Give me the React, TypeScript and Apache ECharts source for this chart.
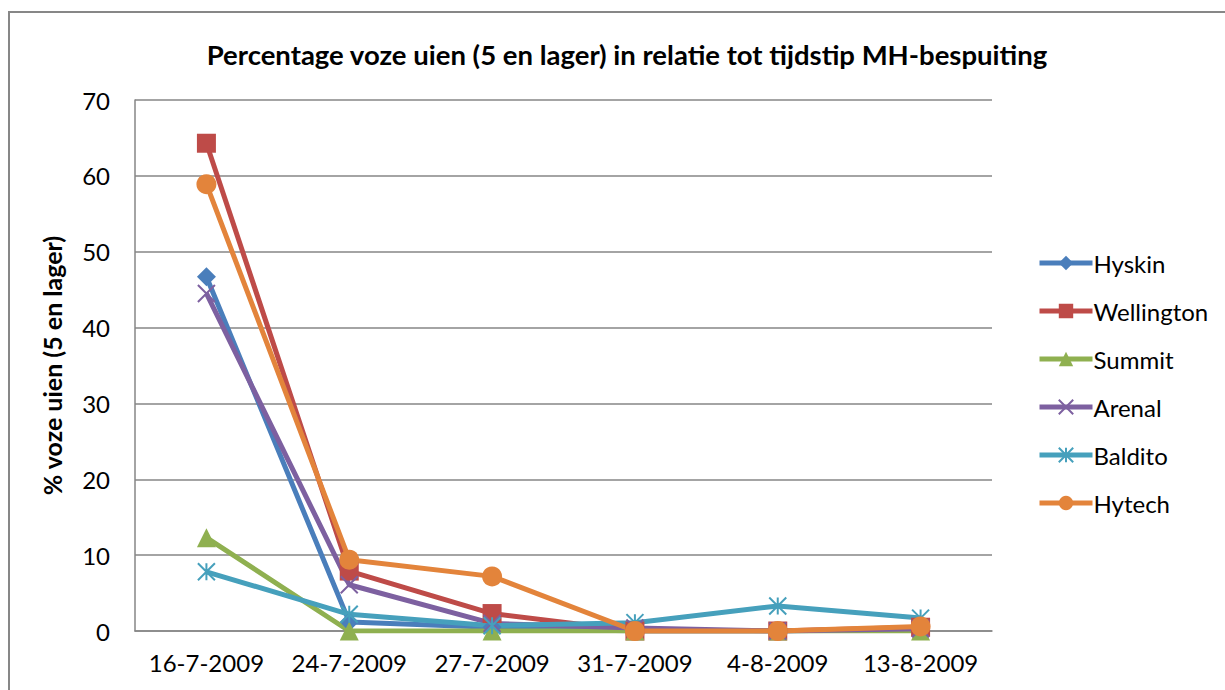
import React, { useEffect, useRef } from "react";
import * as echarts from "echarts";

const categories = ["16-7-2009", "24-7-2009", "27-7-2009", "31-7-2009", "4-8-2009", "13-8-2009"];
const hyskin = [46.7, 1.2, 0.5, 0, 0, 0.2];
const wellington = [64.3, 7.9, 2.3, 0, 0, 0.5];
const summit = [12.3, 0, 0, 0, 0, 0];
const arenal = [44.5, 6.1, 1.0, 0.4, 0, 0.3];
const baldito = [7.8, 2.2, 0.7, 1.1, 3.3, 1.7];
const hytech = [58.9, 9.4, 7.2, 0, 0, 0.6];

const FONT = "Lato, 'Open Sans', sans-serif";

const seriesDefs = [
  { name: "Hyskin", data: hyskin, color: "#4A7EBB", symbol: "diamond", size: 19, stroke: false },
  { name: "Wellington", data: wellington, color: "#BE4B48", symbol: "rect", size: 19, stroke: false },
  { name: "Summit", data: summit, color: "#8FB050", symbol: "triangle", size: 19, stroke: false },
  { name: "Arenal", data: arenal, color: "#7D60A0", symbol: "path://M0,0L10,10M10,0L0,10", size: 17, stroke: true },
  { name: "Baldito", data: baldito, color: "#46A0BC", symbol: "path://M5,0L5,10M0,0L10,10M10,0L0,10", size: 17, stroke: true },
  { name: "Hytech", data: hytech, color: "#E3843B", symbol: "circle", size: 20, stroke: false },
];

export default function App() {
  const ref = useRef<HTMLDivElement>(null);
  useEffect(() => {
    if (!ref.current) return;
    const chart = echarts.init(ref.current, undefined, { renderer: "svg" });
    chart.setOption({
      animation: false,
      backgroundColor: "#ffffff",
      title: {
        text: "Percentage voze uien (5 en lager) in relatie tot tijdstip MH-bespuiting",
        left: 622,
        textAlign: "center",
        top: 35,
        textStyle: { fontFamily: FONT, fontSize: 27.5, fontWeight: "bold", color: "#000" },
      },
      graphic: [
        {
          type: "rect",
          shape: { x: 9, y: 12, width: 1400, height: 900 },
          style: { fill: "none", stroke: "#878787", lineWidth: 2 },
          silent: true,
        },
      ],
      legend: {
        orient: "vertical",
        left: 1032,
        top: 246,
        itemWidth: 53,
        itemHeight: 18,
        itemGap: 24,
        lineStyle: { width: 5 },
        textStyle: { fontFamily: FONT, fontSize: 24, color: "#000", padding: [0, 0, 0, -4] },
        data: seriesDefs.map((s) => s.name),
      },
      grid: { left: 135, top: 100, right: 233, bottom: 59, containLabel: false },
      xAxis: {
        type: "category",
        data: categories,
        boundaryGap: true,
        axisLine: { lineStyle: { color: "#868686", width: 1.5 } },
        axisTick: { show: false },
        axisLabel: { fontFamily: FONT, fontSize: 24, color: "#000", margin: 19, interval: 0 },
      },
      yAxis: {
        type: "value",
        min: 0,
        max: 70,
        interval: 10,
        name: "% voze uien (5 en lager)",
        nameLocation: "middle",
        nameGap: 71,
        nameRotate: 90,
        nameTextStyle: { fontFamily: FONT, fontSize: 25, fontWeight: "bold", color: "#000" },
        axisLine: { show: true, lineStyle: { color: "#868686", width: 1.5 } },
        axisTick: { show: false },
        splitLine: { lineStyle: { color: "#868686", width: 1.5 } },
        axisLabel: { fontFamily: FONT, fontSize: 24, color: "#000", margin: 25 },
      },
      series: seriesDefs.map((s) => ({
        name: s.name,
        type: "line",
        data: s.data,
        symbol: s.symbol,
        symbolSize: s.size,
        showAllSymbol: true,
        color: s.color,
        lineStyle: { color: s.color, width: 5 },
        itemStyle: s.stroke
          ? { color: s.color, borderColor: s.color, borderWidth: 2 }
          : { color: s.color, borderWidth: 0 },
        emphasis: { disabled: true },
      })),
    });
    return () => chart.dispose();
  }, []);
  return (
    <div
      ref={ref}
      style={{ position: "fixed", left: 0, top: 0, width: 1225, height: 690 }}
    />
  );
}
